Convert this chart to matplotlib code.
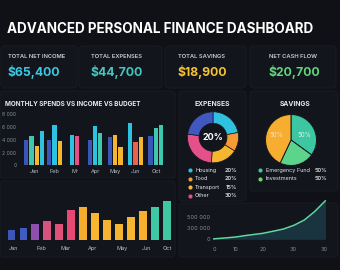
import numpy as np
import matplotlib
matplotlib.use("Agg")
import matplotlib.pyplot as plt
from matplotlib.patches import FancyBboxPatch

plt.rcParams['font.family'] = ['Inter', 'DejaVu Sans']

# ---- data ----
kpi_labels = ["TOTAL NET INCOME", "TOTAL EXPENSES", "TOTAL SAVINGS", "NET CASH FLOW"]
kpi_values = ["$65,400", "$44,700", "$18,900", "$20,700"]

month_groups = ["Jan", "Feb", "Mr", "Apr", "May", "Jun", "Oct"]
group_values = [[3900, 4600, 3000, 5350],
                [3900, 6300, 3800],
                [4800, 4600],
                [3900, 6200, 5100],
                [4500, 4800, 2900],
                [6700, 3700, 4400],
                [4600, 5900, 6400]]
monthly_yticks = [0, 2000, 4000, 6000, 8000]
monthly_ytick_labels = ["0", "2 000", "4 000", "6 000", "8 000"]

trend_values = [1000, 1230, 1670, 1900, 1630, 3030, 3330, 2700, 2000, 1670, 2300, 2900, 3330, 3930]
trend_tick_pos = [0.18, 2.48, 4.51, 6.81, 9.28, 11.32, 13.08]
trend_tick_labels = ["Jan", "Feb", "Mar", "Apr", "May", "Jun", "Oct"]

expense_shares = [22, 12, 17, 26, 23]
expense_names = ["Housing", "Tood", "Transport", "Other"]
expense_pcts = ["20%", "20%", "15%", "30%"]

savings_shares = [35, 22, 43]
savings_names = ["Emergency Fund", "Investments"]
savings_pcts = ["50%", "50%"]

growth_x = [-0.8, 4, 7.8, 12, 17.8, 22, 25.3, 29.1, 32.9, 36.6, 40.6]
growth_y = [7000, 30000, 52000, 90000, 136000, 190000, 234000, 318000, 439000, 627000, 877000]
growth_xticks = [0, 8.0, 17.8, 28.7, 40]
growth_xtick_labels = ["0", "10", "20", "30", "30"]
growth_yticks = [0, 250000, 500000]
growth_ytick_labels = ["0", "300 000", "500 000"]

# ---- colours ----
BG = '#0f1116'
PANEL = '#12151b'
EDGE = '#1b1f26'
BLUE = '#3a56b8'
TEAL = '#3ec8ac'
CYAN = '#2fc2e0'
YELLOW = '#f6b62f'
PINK = '#e5508a'
RED = '#ec6050'
ORANGE = '#f59a35'
GREEN = '#5cd48c'
TICK = '#858b94'

group_colors = [[BLUE, TEAL, YELLOW, CYAN],
                [BLUE, CYAN, YELLOW],
                [CYAN, PINK],
                [BLUE, CYAN, TEAL],
                [BLUE, YELLOW, YELLOW],
                [CYAN, RED, YELLOW],
                [BLUE, TEAL, TEAL]]
trend_colors = ['#3d55b5', '#3f5cc4', '#8e4fae', '#d9517f', '#e0507a', '#e64a72',
                '#f7ad2c', '#f7b530', '#f5b430', '#f5b530', '#f6b42f', '#f7b02d',
                '#3ec8a3', '#3fc8a0']
expense_colors = [CYAN, ORANGE, YELLOW, PINK, '#4058c0']
savings_colors = ['#3cc6a2', GREEN, '#f7ad30']

W, H = 340, 270
fig = plt.figure(figsize=(W / 100, H / 100), dpi=100, facecolor=BG)


def rect(x0, y0, x1, y1):
    return [x0 / W, 1 - y1 / H, (x1 - x0) / W, (y1 - y0) / H]


bg = fig.add_axes([0, 0, 1, 1])
bg.set_xlim(0, W)
bg.set_ylim(H, 0)
bg.axis('off')


def panel(x0, y0, x1, y1):
    bg.add_patch(FancyBboxPatch((x0, y0), x1 - x0, y1 - y0,
                                boxstyle="round,pad=0,rounding_size=4",
                                fc=PANEL, ec=EDGE, lw=0.6))


# title
bg.text(7, 29, "ADVANCED PERSONAL FINANCE DASHBOARD", color='white',
        fontsize=9.7, fontweight='bold', va='center', ha='left')

# KPI cards
cards = [(1, 77), (79, 162), (165, 246), (250, 336)]
kpi_colors = ['#3cc8e2', '#46c6c2', '#f5c233', '#5ed67c']
kpi_x = [8, 91, 178, 269]
for (x0, x1), lab, val, col, tx in zip(cards, kpi_labels, kpi_values, kpi_colors, kpi_x):
    panel(x0, 46, x1, 88)
    bg.text(tx, 57, lab, color='#c9cdd3', fontsize=4.2, fontweight='semibold', va='center')
    bg.text(tx - 0.5, 72, val, color=col, fontsize=8.8, fontweight='bold', va='center')

# panels
panel(0, 91, 175, 178)
panel(0, 181, 175, 257)
panel(179, 91, 246, 201)
panel(250, 91, 338, 191)
panel(179, 203, 338, 257)

bg.text(5, 104, "MONTHLY SPENDS VS INCOME VS BUDGET", color='#e6e8eb',
        fontsize=4.6, fontweight='bold', va='center')
bg.text(212, 104, "EXPENSES", color='#e6e8eb', fontsize=4.8, fontweight='bold',
        va='center', ha='center')
bg.text(295, 104, "SAVINGS", color='#e6e8eb', fontsize=4.8, fontweight='bold',
        va='center', ha='center')

# monthly grouped bars
ax1 = fig.add_axes(rect(22, 114.3, 166, 165.3))
ax1.set_facecolor('none')
step = 0.26
for i, (vals, cols) in enumerate(zip(group_values, group_colors)):
    n = len(vals)
    for j, (v, c) in enumerate(zip(vals, cols)):
        ax1.bar(i + (j - (n - 1) / 2) * step, v, width=0.21, color=c)
ax1.set_xlim(-0.6, 6.5)
ax1.set_ylim(0, 8000)
ax1.set_yticks(monthly_yticks)
ax1.set_yticklabels(monthly_ytick_labels)
ax1.set_xticks(range(len(month_groups)))
ax1.set_xticklabels(month_groups)
ax1.tick_params(length=0, colors=TICK, labelsize=3.7, pad=4)
ax1.tick_params(axis='x', colors='#b8bcc4', labelsize=4, pad=3)
for s in ax1.spines.values():
    s.set_visible(False)

# trend bars
ax2 = fig.add_axes(rect(2, 198.3, 172.7, 240.3))
ax2.set_facecolor('none')
ax2.bar(range(len(trend_values)), trend_values, width=0.66, color=trend_colors)
ax2.set_xlim(-0.8, 13.5)
ax2.set_ylim(0, 4200)
ax2.set_yticks([])
ax2.set_xticks(trend_tick_pos)
ax2.set_xticklabels(trend_tick_labels)
ax2.tick_params(length=0, colors='#b8bcc4', labelsize=4, pad=4)
for s in ax2.spines.values():
    s.set_visible(False)

# expenses donut
ax3 = fig.add_axes(rect(183, 107.3, 243, 167.3))
ax3.pie(expense_shares, colors=expense_colors, startangle=90, counterclock=False,
        radius=1.02, wedgeprops=dict(width=0.46, edgecolor='#15181e', linewidth=0.5))
ax3.set_xlim(-1.2, 1.2)
ax3.set_ylim(-1.2, 1.2)
ax3.text(0, 0, "20%", color='white', fontsize=6.5, fontweight='bold', ha='center', va='center')

for k, (nm, pc) in enumerate(zip(expense_names, expense_pcts)):
    yy = 170.3 + k * 8.5
    bg.plot(189.5, yy, 'o', ms=3.0, color=expense_colors[k], mec='none')
    bg.text(195, yy, nm, color='#e0e3e8', fontsize=4.0, va='center')
    bg.text(237, yy, pc, color='#e0e3e8', fontsize=4.0, fontweight='semibold',
            va='center', ha='right')

# savings pie
ax4 = fig.add_axes(rect(261, 110, 321, 170))
ax4.pie(savings_shares, colors=savings_colors, startangle=90, counterclock=False,
        radius=1.02, wedgeprops=dict(edgecolor='#15181e', linewidth=0.7))
ax4.set_xlim(-1.2, 1.2)
ax4.set_ylim(-1.2, 1.2)
ax4.text(-0.6, 0.2, "50%", color='#fbe2b0', fontsize=4.5, ha='center', va='center')
ax4.text(0.55, 0.2, "50%", color='#d2f3e6', fontsize=4.5, ha='center', va='center')

sav_dot = ['#3cc6a2', '#6ad85a']
for k, (nm, pc) in enumerate(zip(savings_names, savings_pcts)):
    yy = 170.3 + k * 8.7
    bg.plot(259.5, yy, 'o', ms=3.0, color=sav_dot[k], mec='none')
    bg.text(265.5, yy, nm, color='#e0e3e8', fontsize=4.0, va='center')
    bg.text(327.5, yy, pc, color='#e0e3e8', fontsize=4.0, fontweight='semibold',
            va='center', ha='right')

# growth curve
ax5 = fig.add_axes(rect(213, 198, 330, 241))
ax5.set_facecolor('none')
ax5.fill_between(growth_x, growth_y, 0, color='#1a3844', alpha=0.9, lw=0)
ax5.plot(growth_x, growth_y, color='#5fd6a0', lw=1.1, solid_capstyle='round')
ax5.set_xlim(-0.4, 42.26)
ax5.set_ylim(-38600, 938600)
ax5.set_xticks(growth_xticks)
ax5.set_xticklabels(growth_xtick_labels)
ax5.set_yticks(growth_yticks)
ax5.set_yticklabels(growth_ytick_labels)
ax5.tick_params(length=0, colors=TICK, labelsize=4, pad=2)
ax5.tick_params(axis='x', pad=4)
for s in ax5.spines.values():
    s.set_visible(False)

fig.savefig("out.png", dpi=100, facecolor=BG)
